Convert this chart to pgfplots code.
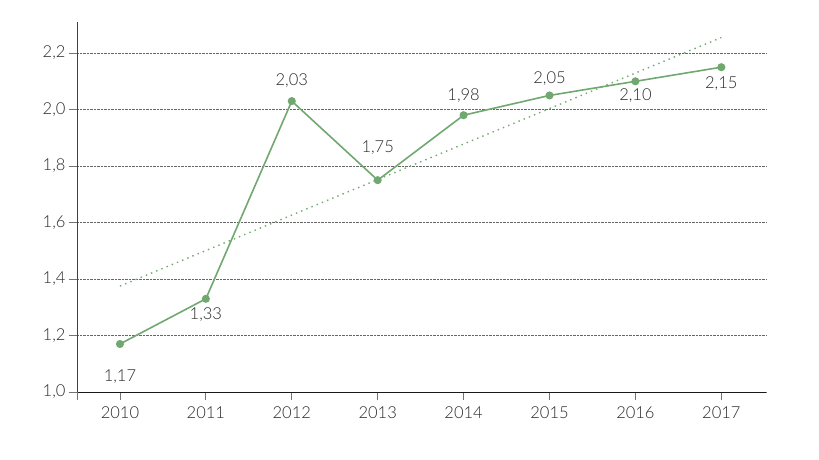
\documentclass[border=0pt]{standalone}
\usepackage{pgfplots}
\pgfplotsset{compat=1.18}
\usepackage{fontspec}
\setmainfont{Lato}[UprightFont={* Light}]
\definecolor{lgreen}{RGB}{112,168,112}
\definecolor{txt}{RGB}{40,40,40}
\begin{document}
\begin{tikzpicture}
  \useasboundingbox (-77pt,-67pt) rectangle (742pt,392pt);
  \begin{axis}[
      scale only axis,
      width=689pt, height=370pt,
      xmin=-0.5, xmax=7.52,
      ymin=1.0, ymax=2.31,
      clip=false,
      axis x line*=bottom,
      axis y line*=left,
      axis line style={line width=0.8pt, draw=black!75},
      x axis line style={draw=black!90},
      tick align=outside,
      major tick length=8pt,
      tick style={black!55, line width=0.9pt},
      xtick={0,1,2,3,4,5,6,7},
      xticklabels={2010,2011,2012,2013,2014,2015,2016,2017},
      extra x ticks={-0.5},
      extra x tick labels={},
      ytick={1.0,1.2,1.4,1.6,1.8,2.0,2.2},
      ymajorgrids,
      grid style={black!60, line width=0.6pt, dash pattern=on 0.7pt off 0.7pt},
      /pgf/number format/assume math mode=true,
      yticklabel style={/pgf/number format/.cd, use comma, fixed, fixed zerofill, precision=1},
      tick label style={font=\fontsize{16.5}{19}\selectfont, text=txt},
      xticklabel style={yshift=-3pt},
    ]
    % trend line
    \addplot[lgreen, line width=1.4pt, dash pattern=on 1.4pt off 4.2pt]
      coordinates {(0,1.375) (7,2.255)};
    % values
    \addplot[
      color=lgreen, line width=1.6pt,
      mark=*, mark size=3.2pt, mark options={fill=lgreen, draw=lgreen},
      point meta=y,
      visualization depends on={\thisrow{dy} \as \dy},
      nodes near coords={\pgfmathprintnumber[assume math mode=true,use comma,fixed,fixed zerofill,precision=2]{\pgfplotspointmeta}},
      nodes near coords style={anchor=center, yshift=\dy pt, font=\fontsize{16.5}{19}\selectfont, text=txt},
    ] table[x=x, y=y] {
      x y    dy
      0 1.17 -33
      1 1.33 -16
      2 2.03 20
      3 1.75 32
      4 1.98 20
      5 2.05 17
      6 2.10 -14
      7 2.15 -16
    };
  \end{axis}
\end{tikzpicture}
\end{document}
